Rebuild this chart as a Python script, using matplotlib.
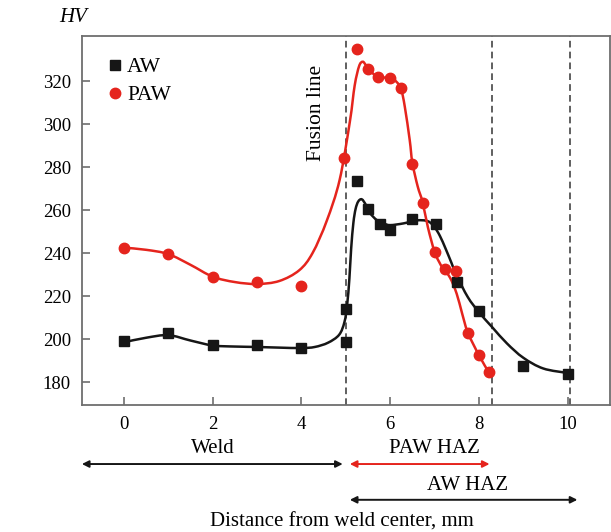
#!/usr/bin/env python3
"""
Microhardness profile across the weld: AW vs PAW
"""
import matplotlib
matplotlib.use('Agg')
import matplotlib.pyplot as plt
from matplotlib.path import Path
from matplotlib.patches import PathPatch

# measured points
aw_x = [0, 1, 2, 3, 4, 5.0, 5.0, 5.25, 5.5, 5.77, 6.0, 6.5, 7.03, 7.5, 8.0, 9.0, 10.0]
aw_hv = [199, 203, 197, 197, 196, 198.5, 214, 273.5, 260.5, 253.5, 250.5, 255.8, 253.5, 226.5, 213, 187.5, 183.8]

paw_x = [0, 1, 2, 3, 4, 4.95, 5.25, 5.5, 5.72, 6.0, 6.24, 6.5, 6.75, 7.0, 7.23, 7.48, 7.75, 8.0, 8.22]
paw_hv = [242.3, 239.7, 229, 226.5, 224.5, 284, 335, 325.6, 322, 321.4, 317, 281.6, 263.2, 240.5, 232.5, 231.6, 203, 192.5, 184.6]

# fitted curves
aw_fit_x = [0, 0.5, 1.0, 1.5, 2.0, 2.5, 3.0, 3.5, 4.0, 4.3, 4.6, 4.85, 4.97, 5.03, 5.08, 5.12, 5.17, 5.22, 5.28,
            5.36, 5.45, 5.55, 5.7, 5.85, 6.0, 6.3, 6.6, 6.85, 7.0, 7.12, 7.25, 7.38, 7.5, 7.75, 8.0, 8.3, 8.63,
            9.0, 9.45, 10.0]
aw_fit_hv = [198.5, 200.6, 201.8, 199.3, 197.0, 196.5, 196.3, 196.0, 195.8, 196.3, 198.3, 202.0, 208.0, 216.0,
             228.0, 242.0, 254.0, 260.5, 264.0, 265.0, 262.5, 258.5, 255.3, 253.8, 253.0, 253.8, 255.2, 254.8,
             252.0, 248.0, 242.0, 235.5, 229.5, 219.5, 212.5, 205.5, 198.0, 191.3, 186.3, 184.2]

paw_fit_x = [0, 0.5, 1.0, 1.5, 2.0, 2.5, 3.0, 3.5, 3.95, 4.25, 4.57, 4.86, 5.09, 5.2, 5.3, 5.38, 5.45,
             5.55, 5.72, 6.0, 6.15, 6.25, 6.33, 6.44, 6.5, 6.62, 6.73, 6.85, 7.0, 7.1, 7.2, 7.35, 7.5, 7.62,
             7.75, 8.0, 8.22]
paw_fit_hv = [242.5, 241.5, 239.5, 234.5, 229.0, 226.5, 225.6, 227.0, 232.0, 240.0, 255.0, 274.0,
              301.0, 318.0, 327.0, 329.0, 327.5, 324.8, 322.0, 321.4, 319.5, 316.0, 308.0, 292.6, 282.0,
              271.0, 263.7, 252.0, 240.5, 236.0, 232.5, 228.5, 221.0, 212.0, 203.0, 192.5, 184.6]

x_ticks = [0, 2, 4, 6, 8, 10]
y_ticks = [180, 200, 220, 240, 260, 280, 300, 320]
boundaries = [5.0, 8.3, 10.05]

red = '#e5241d'
black = '#161616'
frame = '#6e6e6e'


def smooth_path(xs, ys):
    """Catmull-Rom through the points, drawn as cubic Bezier segments"""
    pts = list(zip(xs, ys))
    verts = [pts[0]]
    codes = [Path.MOVETO]
    n = len(pts)
    for i in range(n - 1):
        p0 = pts[max(i - 1, 0)]
        p1 = pts[i]
        p2 = pts[i + 1]
        p3 = pts[min(i + 2, n - 1)]
        c1 = (p1[0] + (p2[0] - p0[0]) / 6, p1[1] + (p2[1] - p0[1]) / 6)
        c2 = (p2[0] - (p3[0] - p1[0]) / 6, p2[1] - (p3[1] - p1[1]) / 6)
        verts += [c1, c2, p2]
        codes += [Path.CURVE4] * 3
    return Path(verts, codes)


plt.rcParams['font.family'] = ['Liberation Serif', 'DejaVu Serif']

fig = plt.figure(figsize=(6.11, 5.32), dpi=100)
ax = fig.add_axes([0.134, 0.2387, 0.864, 0.6933])

for xb in boundaries:
    ax.axvline(xb, color='#444444', linestyle=(0, (4, 2.5)), linewidth=1.2, zorder=1)

for fx, fy, col in [(aw_fit_x, aw_fit_hv, black), (paw_fit_x, paw_fit_hv, red)]:
    ax.add_patch(PathPatch(smooth_path(fx, fy), facecolor='none', edgecolor=col,
                           linewidth=1.8, zorder=2))

ax.plot(aw_x, aw_hv, 's', color=black, markersize=7, linestyle='none', label='AW', zorder=3)
ax.plot(paw_x, paw_hv, 'o', color=red, markersize=7.5, linestyle='none', label='PAW', zorder=3)

ax.set_xlim(-0.95, 10.95)
ax.set_ylim(169.3, 340.9)
ax.set_xticks(x_ticks)
ax.set_yticks(y_ticks)
ax.tick_params(direction='in', length=6, width=1.2, color=frame, labelsize=13.5, pad=8)
for sp in ax.spines.values():
    sp.set_color(frame)
    sp.set_linewidth(1.3)

ax.legend(loc='upper left', frameon=False, fontsize=15.5, handletextpad=0.15,
          borderaxespad=0.5, labelspacing=0.35, handlelength=0.8, bbox_to_anchor=(0.01, 0.995))

ax.text(4.34, 305, 'Fusion line', rotation=90, ha='center', va='center', fontsize=15.5)
ax.text(-0.017, 1.051, 'HV', transform=ax.transAxes, fontsize=15, style='italic',
        ha='center', va='center')

# zone arrows below the axis
tr = ax.get_xaxis_transform()
zones = [('Weld', -0.95, 4.93, 2.0, -0.16, -0.117, black),
         ('PAW HAZ', 5.09, 8.24, 7.0, -0.16, -0.117, red),
         ('AW HAZ', 5.09, 10.22, 7.75, -0.257, -0.219, black)]
for label, x0, x1, xt, ya, yt, col in zones:
    ax.annotate('', xy=(x0, ya), xytext=(x1, ya), xycoords=tr, textcoords=tr,
                arrowprops=dict(arrowstyle='<|-|>', color=col, linewidth=1.4,
                                mutation_scale=10, shrinkA=0, shrinkB=0),
                annotation_clip=False)
    ax.text(xt, yt, label, transform=tr, ha='center', va='center', fontsize=15)

ax.text(4.9, -0.317, 'Distance from weld center, mm', transform=tr, ha='center', va='center',
        fontsize=15)

fig.savefig('out.png', dpi=100)
